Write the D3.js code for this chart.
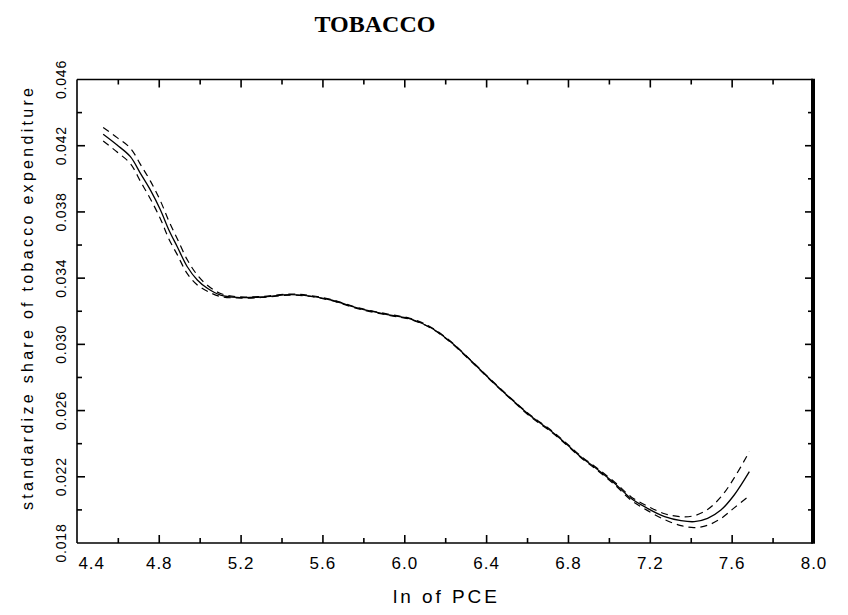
<!DOCTYPE html>
<html><head><meta charset="utf-8">
<script src="https://cdn.jsdelivr.net/npm/d3@7/dist/d3.min.js"></script>
<style>body{margin:0;background:#fff}svg{display:block}</style>
</head><body><svg id="c" width="848" height="615"></svg>
<script>
// ---- data ----
const lnPCE = [4.526, 4.594, 4.659, 4.708, 4.757, 4.806, 4.847, 4.888, 4.937, 4.986, 5.035, 5.10, 5.18, 5.30, 5.44, 5.54, 5.64, 5.785, 5.93, 6.03, 6.13, 6.225, 6.32, 6.42, 6.52, 6.615, 6.715, 6.79, 6.86, 6.945, 7.025, 7.105, 7.185, 7.27, 7.35, 7.415, 7.48, 7.545, 7.61, 7.684];
const shareEstimate = [0.04269, 0.04204, 0.04134, 0.04033, 0.03932, 0.03812, 0.03691, 0.0359, 0.03469, 0.03389, 0.03339, 0.03298, 0.03284, 0.03286, 0.03301, 0.03292, 0.03268, 0.03214, 0.03177, 0.03153, 0.03099, 0.03014, 0.02905, 0.02785, 0.0267, 0.02567, 0.02477, 0.02398, 0.02321, 0.02241, 0.02161, 0.0207, 0.0201, 0.01959, 0.01935, 0.01929, 0.01949, 0.01999, 0.0209, 0.02231];
const shareUpper = [0.04310, 0.04249, 0.04185, 0.04087, 0.03986, 0.03866, 0.03745, 0.03638, 0.03511, 0.03419, 0.03357, 0.03307, 0.03288, 0.03289, 0.03304, 0.03295, 0.03271, 0.03217, 0.03180, 0.03156, 0.03102, 0.03017, 0.02908, 0.02788, 0.02673, 0.02572, 0.02482, 0.02403, 0.02326, 0.02247, 0.02169, 0.0208, 0.02023, 0.01977, 0.01959, 0.01965, 0.02003, 0.02078, 0.02193, 0.02352];
const shareLower = [0.04229, 0.04162, 0.04092, 0.03985, 0.03878, 0.03758, 0.03637, 0.03542, 0.03427, 0.03359, 0.03321, 0.03289, 0.03280, 0.03283, 0.03298, 0.03289, 0.03265, 0.03211, 0.03174, 0.03150, 0.03096, 0.03011, 0.02902, 0.02782, 0.02667, 0.02562, 0.02472, 0.02393, 0.02316, 0.02235, 0.02153, 0.0206, 0.01997, 0.01941, 0.01905, 0.01893, 0.01907, 0.01948, 0.02012, 0.02086];

const xMajorTicks = [4.4, 4.8, 5.2, 5.6, 6.0, 6.4, 6.8, 7.2, 7.6, 8.0];
const xTickLabels = ["4.4", "4.8", "5.2", "5.6", "6.0", "6.4", "6.8", "7.2", "7.6", "8.0"];
const xMinorTicks = [4.6, 5.0, 5.4, 5.8, 6.2, 6.6, 7.0, 7.4, 7.8];
const yMajorTicks = [0.018, 0.022, 0.026, 0.030, 0.034, 0.038, 0.042, 0.046];
const yTickLabels = ["0.018", "0.022", "0.026", "0.030", "0.034", "0.038", "0.042", "0.046"];
const yMinorTicks = [0.020, 0.024, 0.028, 0.032, 0.036, 0.040, 0.044];

const titleText = "TOBACCO";
const xTitle = "ln of PCE";
const yTitle = "standardize share of tobacco expenditure";

// ---- layout ----
const L = 77, R = 813, T = 79.5, B = 543;
const svg = d3.select("#c");
const x = d3.scaleLinear().domain([4.4, 8.0]).range([L + 0.4, R + 1]);
const y = d3.scaleLinear().domain([0.018, 0.046]).range([B, T]);

const sansFont = "'Liberation Sans', Arial, sans-serif";

// title
svg.append("text").attr("x", 375).attr("y", 32).attr("text-anchor", "middle")
  .attr("font-family", "'Liberation Serif', 'Times New Roman', serif")
  .attr("font-weight", "bold").attr("font-size", 24).text(titleText);

// frame
const frame = svg.append("g").attr("stroke", "#000").attr("fill", "none");
frame.append("line").attr("x1", L).attr("x2", L).attr("y1", T).attr("y2", B).attr("stroke-width", 1.6);
frame.append("line").attr("x1", L).attr("x2", R).attr("y1", B).attr("y2", B).attr("stroke-width", 1.6);
frame.append("line").attr("x1", L).attr("x2", R).attr("y1", T).attr("y2", T).attr("stroke-width", 1.6);
frame.append("line").attr("x1", R).attr("x2", R).attr("y1", T - 0.8).attr("y2", B + 0.8).attr("stroke-width", 4);

// ticks
const tg = svg.append("g").attr("stroke", "#000").attr("stroke-width", 1.6);
const MAJ = 8, MIN = 5;
function xTicks(vals, len) {
  vals.forEach(v => {
    tg.append("line").attr("x1", x(v)).attr("x2", x(v)).attr("y1", B).attr("y2", B - len);
    tg.append("line").attr("x1", x(v)).attr("x2", x(v)).attr("y1", T).attr("y2", T + len);
  });
}
function yTicks(vals, len) {
  vals.forEach(v => {
    tg.append("line").attr("x1", L).attr("x2", L + len).attr("y1", y(v)).attr("y2", y(v));
    tg.append("line").attr("x1", R).attr("x2", R - len).attr("y1", y(v)).attr("y2", y(v));
  });
}
xTicks(xMajorTicks.filter(v => v > 4.4 && v < 8.0), MAJ);
xTicks(xMinorTicks, MIN);
yTicks(yMajorTicks.filter(v => v > 0.018 && v < 0.046), MAJ);
yTicks(yMinorTicks, MIN);

// x tick labels
xMajorTicks.forEach((v, i) => {
  svg.append("text").attr("x", i === 0 ? x(v) + 1 : x(v)).attr("y", 569)
    .attr("text-anchor", i === 0 ? "start" : "middle")
    .attr("font-family", sansFont).attr("font-size", 17).attr("letter-spacing", 1)
    .text(xTickLabels[i]);
});
// y tick labels (rotated)
yMajorTicks.forEach((v, i) => {
  svg.append("text").attr("transform", `translate(66,${y(v)}) rotate(-90)`)
    .attr("text-anchor", "middle")
    .attr("font-family", sansFont).attr("font-size", 14).attr("letter-spacing", 0.8)
    .text(yTickLabels[i]);
});

// axis titles
svg.append("text").attr("x", 393).attr("y", 603)
  .attr("font-family", sansFont).attr("font-size", 19)
  .attr("textLength", 104).attr("lengthAdjust", "spacing").text(xTitle);
svg.append("text").attr("transform", "translate(33,510) rotate(-90)")
  .attr("font-family", sansFont).attr("font-size", 16)
  .attr("textLength", 422).attr("lengthAdjust", "spacing").text(yTitle);

// curves
const line = d3.line().x((d, i) => x(lnPCE[i])).y(d => y(d)).curve(d3.curveCatmullRom);
const cg = svg.append("g").attr("fill", "none").attr("stroke", "#000");
cg.append("path").attr("d", line(shareUpper)).attr("stroke-width", 1.2).attr("stroke-dasharray", "7,5");
cg.append("path").attr("d", line(shareLower)).attr("stroke-width", 1.2).attr("stroke-dasharray", "7,5");
cg.append("path").attr("d", line(shareEstimate)).attr("stroke-width", 1.3);
</script>
</body></html>
